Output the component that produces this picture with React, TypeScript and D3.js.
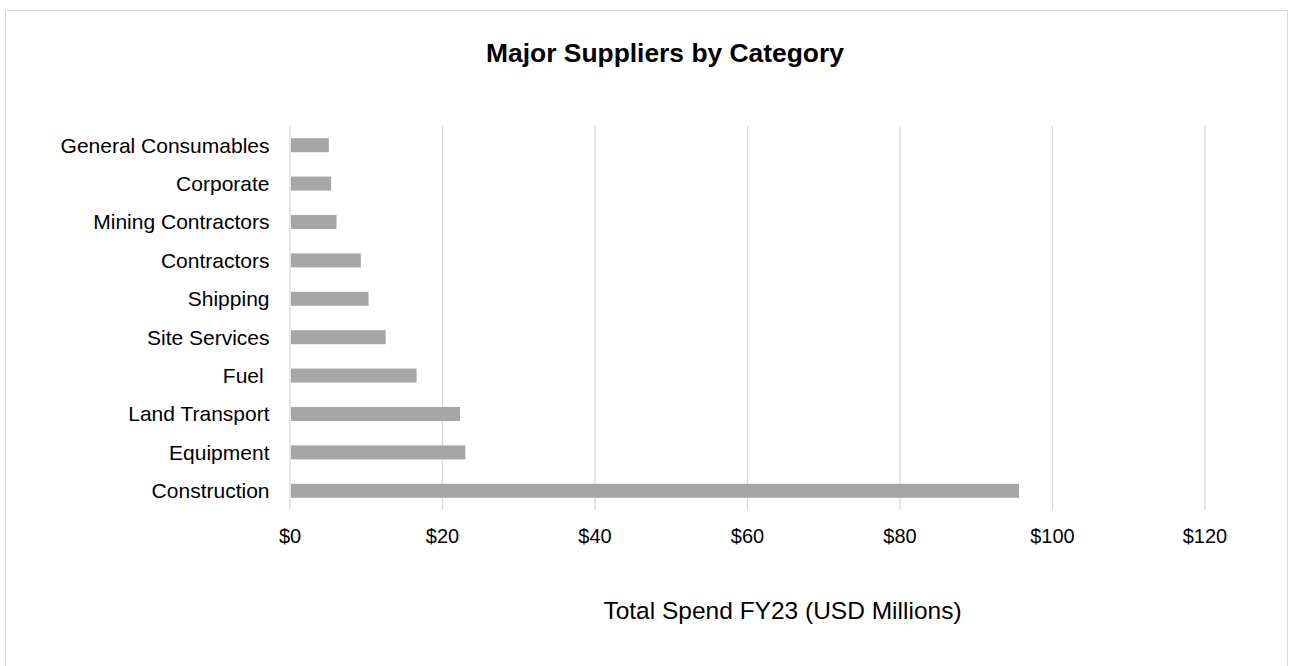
import React from "react";
import * as d3 from "d3";

const categories = [
  "General Consumables",
  "Corporate",
  "Mining Contractors",
  "Contractors",
  "Shipping",
  "Site Services",
  "Fuel ",
  "Land Transport",
  "Equipment",
  "Construction",
];
const spend = [5.1, 5.4, 6.1, 9.3, 10.3, 12.55, 16.6, 22.3, 23.0, 95.6];
const ticks = [0, 20, 40, 60, 80, 100, 120];
const title = "Major Suppliers by Category";
const axisTitle = "Total Spend FY23 (USD Millions)";

export default function App() {
  const W = 1289;
  const H = 666;
  const left = 290;
  const right = 1205;
  const top = 126;
  const bottom = 510;
  const x = d3.scaleLinear().domain([0, 120]).range([left, right]);
  const y = d3
    .scaleBand<string>()
    .domain(categories)
    .range([top, bottom])
    .paddingInner(0.636)
    .paddingOuter(0.318);
  const font = "'Liberation Sans', Arial, sans-serif";
  return (
    <svg
      width={W}
      height={H}
      style={{ position: "absolute", left: 0, top: 0, background: "#fff" }}
      fontFamily={font}
    >
      <rect x={5.5} y={10.5} width={1282} height={700} fill="#fff" stroke="#d9d9d9" strokeWidth={1} />
      <text x={665} y={62} textAnchor="middle" fontSize={26.4} fontWeight="bold" fill="#000">
        {title}
      </text>
      {ticks.map((t) => (
        <g key={t}>
          <line x1={x(t)} x2={x(t)} y1={top} y2={bottom} stroke="#d9d9d9" strokeWidth={1.3} />
          <text x={x(t)} y={543} textAnchor="middle" fontSize={20} fill="#000">
            {"$" + d3.format("d")(t)}
          </text>
        </g>
      ))}
      {categories.map((c, i) => (
        <g key={c}>
          <rect
            x={x(0) + 1}
            y={y(c)!}
            width={x(spend[i]) - x(0) - 1}
            height={y.bandwidth()}
            fill="#a6a6a6"
          />
          <text
            x={269.5}
            y={y(c)! + y.bandwidth() / 2}
            dy="0.35em"
            textAnchor="end"
            fontSize={21}
            fill="#000"
            style={{ whiteSpace: "pre" }}
          >
            {c}
          </text>
        </g>
      ))}
      <text x={782.5} y={619} textAnchor="middle" fontSize={24.5} fill="#000">
        {axisTitle}
      </text>
    </svg>
  );
}
